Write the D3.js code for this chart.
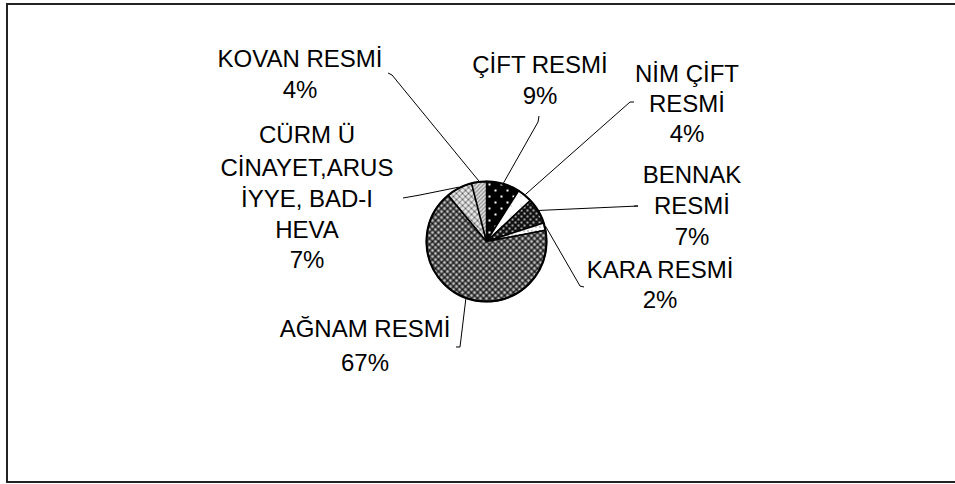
<!DOCTYPE html>
<html>
<head>
<meta charset="utf-8">
<script src="https://cdn.jsdelivr.net/npm/d3@7"></script>
<style>
  body { margin: 0; background: #fff; }
  text { font-family: "Liberation Sans", Arial, sans-serif; font-size: 24px; fill: #000; }
</style>
</head>
<body>
<svg width="955" height="484"></svg>
<script>
// dilimler, saat 12'den başlayıp saat yönünde
var categories = ["ÇİFT RESMİ", "NİM ÇİFT RESMİ", "BENNAK RESMİ", "KARA RESMİ", "AĞNAM RESMİ", "CÜRM Ü CİNAYET,ARUS İYYE, BAD-I HEVA", "KOVAN RESMİ"];
var values = [9, 4, 7, 2, 67, 7, 4];
// etiket satırları (kategori adı + yüzde)
var labelLines = [
  ["ÇİFT RESMİ", "9%"],
  ["NİM ÇİFT", "RESMİ", "4%"],
  ["BENNAK", "RESMİ", "7%"],
  ["KARA RESMİ", "2%"],
  ["AĞNAM RESMİ", "67%"],
  ["CÜRM Ü", "CİNAYET,ARUS", "İYYE, BAD-I", "HEVA", "7%"],
  ["KOVAN RESMİ", "4%"]
];

// yerleşim: etiket merkezi, satır tabanları, kılavuz çizgi uçları
var layout = [
  {x: 540, y: [73, 104], lead: [[538, 122], [539, 116]]},
  {x: 687, y: [82, 112, 142], lead: [[630, 102], [634, 102]]},
  {x: 692, y: [183, 214, 245], lead: [[638, 206], [634, 206]]},
  {x: 660, y: [278, 308], lead: [[580, 286], [584, 287]]},
  {x: 365, y: [337, 371], lead: [[460, 347], [456, 347]]},
  {x: 307, y: [143, 176, 207, 238, 268], lead: [[420, 195], [403, 198]]},
  {x: 300, y: [67, 98], lead: [[392, 75], [388, 73]]}
];

var cx = 486.5, cy = 241.5, r = 60;

var svg = d3.select("svg");

// çerçeve
svg.append("rect")
  .attr("x", 7).attr("y", 4)
  .attr("width", 960).attr("height", 478)
  .attr("fill", "none").attr("stroke", "#222").attr("stroke-width", 2);

var defs = svg.append("defs");

function pat(id, w, h, bg) {
  var p = defs.append("pattern").attr("id", id)
    .attr("patternUnits", "userSpaceOnUse")
    .attr("width", w).attr("height", h);
  p.append("rect").attr("width", w).attr("height", h).attr("fill", bg);
  return p;
}

// ÇİFT: siyah, seyrek beyaz noktalar
var p0 = pat("p0", 12, 12, "#000");
p0.append("rect").attr("x", 2).attr("y", 2).attr("width", 2).attr("height", 2).attr("fill", "#fff");
p0.append("rect").attr("x", 8).attr("y", 8).attr("width", 2).attr("height", 2).attr("fill", "#fff");

// NİM ÇİFT: beyaz
var p1 = pat("p1", 10, 10, "#fff");
p1.append("rect").attr("x", 4).attr("y", 4).attr("width", 1).attr("height", 1).attr("fill", "#999");

// BENNAK: koyu, sık noktalar
var p2 = pat("p2", 6, 6, "#111");
p2.append("rect").attr("x", 1).attr("y", 1).attr("width", 2).attr("height", 2).attr("fill", "#aaa");
p2.append("rect").attr("x", 4).attr("y", 4).attr("width", 2).attr("height", 2).attr("fill", "#aaa");

// KARA: beyaz, koyu noktalar
var p3 = pat("p3", 4, 4, "#fff");
p3.append("rect").attr("x", 1).attr("y", 1).attr("width", 1).attr("height", 1).attr("fill", "#333");

// AĞNAM: gri kafes
var p4 = pat("p4", 6, 6, "#8c8c8c");
p4.append("path").attr("d", "M0,0L6,6M6,0L0,6").attr("stroke", "#111").attr("stroke-width", 1.2);
p4.append("rect").attr("x", 2.5).attr("y", 0).attr("width", 1).attr("height", 1).attr("fill", "#fff");
p4.append("rect").attr("x", 0).attr("y", 2.5).attr("width", 1).attr("height", 1).attr("fill", "#fff");
p4.append("rect").attr("x", 2.5).attr("y", 5).attr("width", 1).attr("height", 1).attr("fill", "#fff");
p4.append("rect").attr("x", 5).attr("y", 2.5).attr("width", 1).attr("height", 1).attr("fill", "#fff");

// CÜRM: açık kafes
var p5 = pat("p5", 6, 6, "#e6e6e6");
p5.append("path").attr("d", "M0,0L6,6M6,0L0,6").attr("stroke", "#666").attr("stroke-width", 1);

// KOVAN: çapraz çizgiler
var p6 = pat("p6", 4, 4, "#fff");
p6.append("path").attr("d", "M-1,1L1,-1M0,4L4,0M3,5L5,3").attr("stroke", "#777").attr("stroke-width", 1.3);

var fills = ["url(#p0)", "url(#p1)", "url(#p2)", "url(#p3)", "url(#p4)", "url(#p5)", "url(#p6)"];

var pie = d3.pie().sort(null).value(function(d) { return d; });
var arcs = pie(values);
var arc = d3.arc().innerRadius(0).outerRadius(r);
var edge = d3.arc().innerRadius(r + 1).outerRadius(r + 1);

var g = svg.append("g").attr("transform", "translate(" + cx + "," + cy + ")");

g.selectAll("path.slice")
  .data(arcs)
  .enter().append("path")
  .attr("class", "slice")
  .attr("d", arc)
  .attr("fill", function(d, i) { return fills[i]; })
  .attr("stroke", "#000")
  .attr("stroke-width", 1.5)
  .attr("stroke-linejoin", "round");

g.append("circle").attr("r", r).attr("fill", "none").attr("stroke", "#000").attr("stroke-width", 2);

// kılavuz çizgileri
var line = d3.line();
arcs.forEach(function(a, i) {
  var c = edge.centroid(a);
  var pts = [[cx + c[0], cy + c[1]]].concat(layout[i].lead);
  svg.append("path")
    .attr("d", line(pts))
    .attr("fill", "none")
    .attr("stroke", "#000")
    .attr("stroke-width", 1);
});

// etiketler
labelLines.forEach(function(lines, i) {
  var L = layout[i];
  lines.forEach(function(s, j) {
    svg.append("text")
      .attr("x", L.x)
      .attr("y", L.y[j])
      .attr("text-anchor", "middle")
      .text(s);
  });
});
</script>
</body>
</html>
